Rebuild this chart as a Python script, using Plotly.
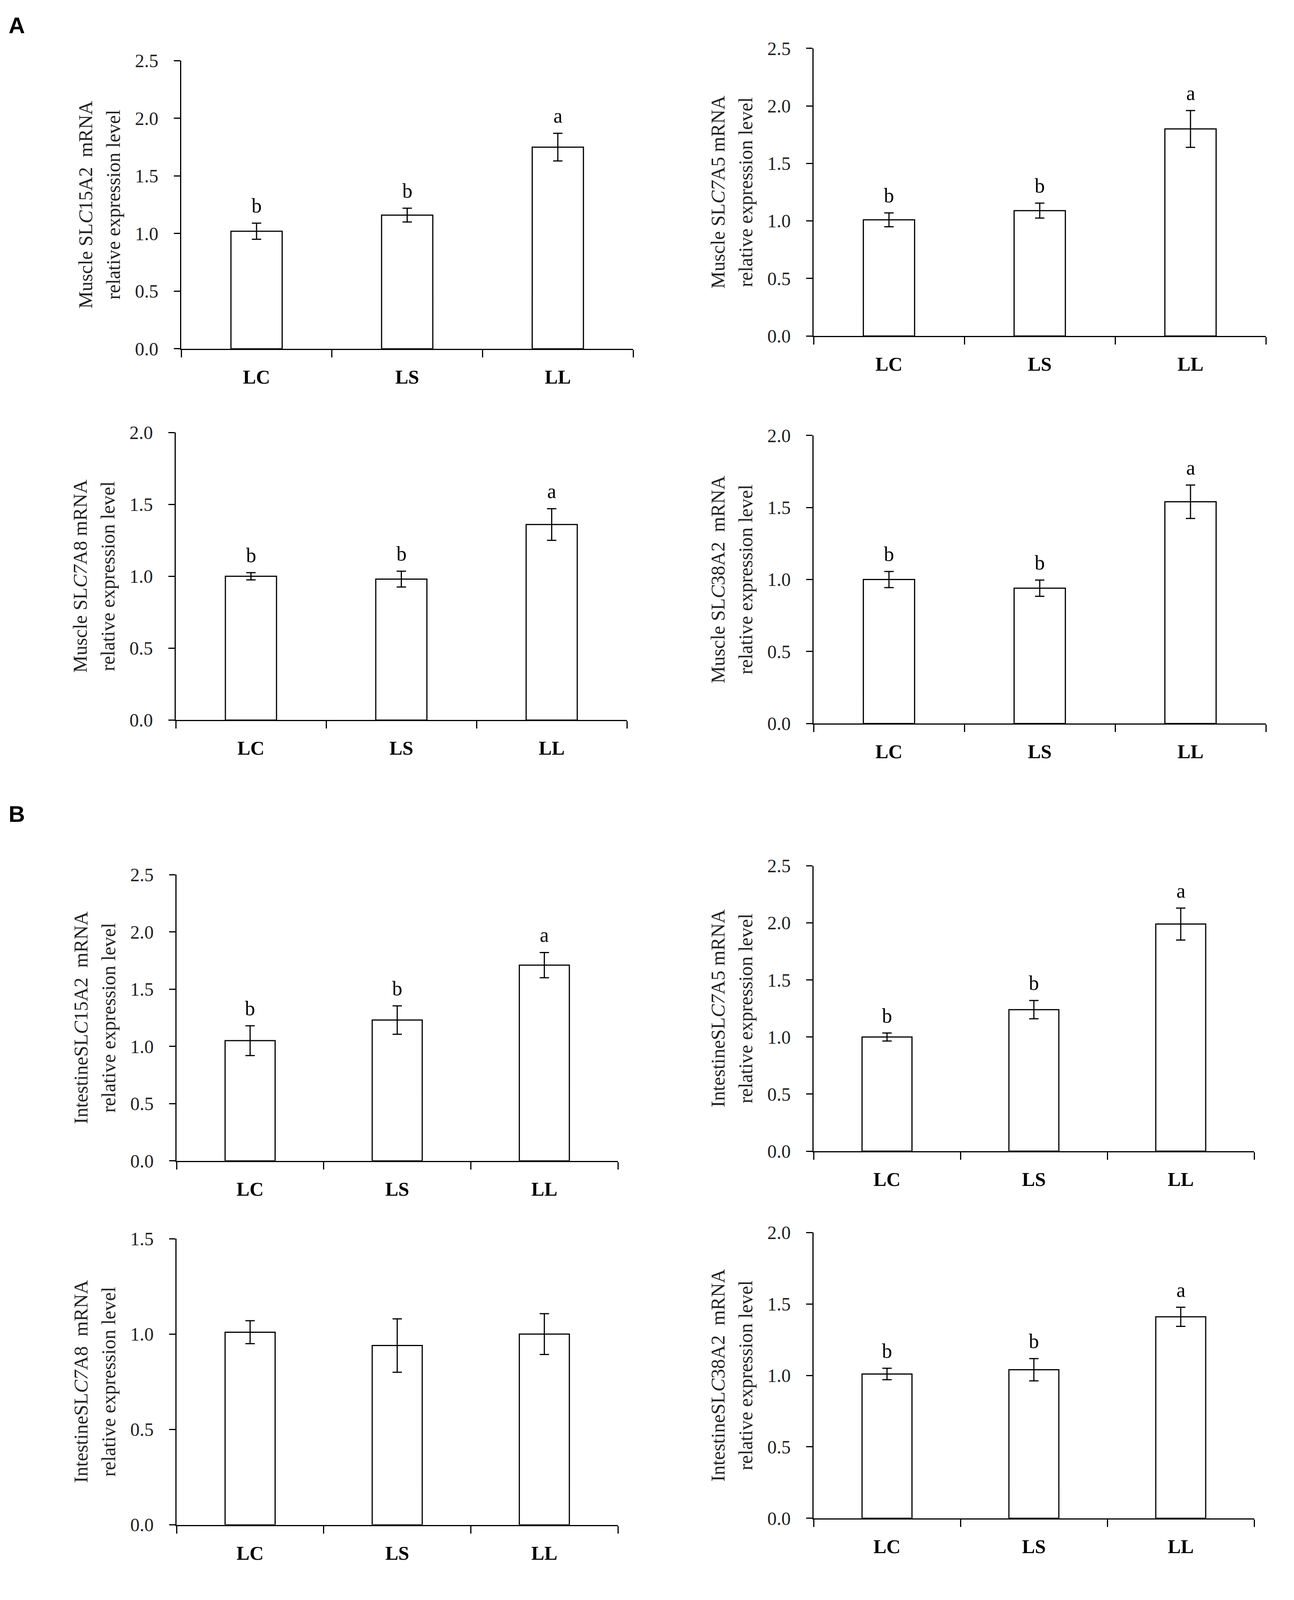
import plotly.graph_objects as go

# page size (minus the 8px default body margin on each side)
W, H, PAD = 3297, 4121, 8

groups = ["LC", "LS", "LL"]

# Muscle (A)
muscle_slc15a2 = [1.02, 1.16, 1.75]
muscle_slc15a2_se = [0.07, 0.06, 0.12]
muscle_slc7a5 = [1.01, 1.09, 1.80]
muscle_slc7a5_se = [0.06, 0.065, 0.16]
muscle_slc7a8 = [1.00, 0.98, 1.36]
muscle_slc7a8_se = [0.025, 0.055, 0.11]
muscle_slc38a2 = [1.00, 0.94, 1.54]
muscle_slc38a2_se = [0.056, 0.056, 0.116]

# Intestine (B)
int_slc15a2 = [1.05, 1.23, 1.71]
int_slc15a2_se = [0.13, 0.124, 0.11]
int_slc7a5 = [1.00, 1.24, 1.99]
int_slc7a5_se = [0.035, 0.08, 0.14]
int_slc7a8 = [1.01, 0.94, 1.00]
int_slc7a8_se = [0.06, 0.14, 0.107]
int_slc38a2 = [1.01, 1.04, 1.41]
int_slc38a2_se = [0.04, 0.078, 0.067]

sig_bba = ["b", "b", "a"]
sig_none = ["", "", ""]

line2 = "relative expression level"

# (title line 1, means, errors, letters, y max)
panels = [
    ("Muscle SL<i>C</i>15A2  mRNA", muscle_slc15a2, muscle_slc15a2_se, sig_bba, 2.5),
    ("Muscle SL<i>C7</i>A5 mRNA", muscle_slc7a5, muscle_slc7a5_se, sig_bba, 2.5),
    ("Muscle SL<i>C7</i>A8 mRNA", muscle_slc7a8, muscle_slc7a8_se, sig_bba, 2.0),
    ("Muscle SL<i>C</i>38A2  mRNA", muscle_slc38a2, muscle_slc38a2_se, sig_bba, 2.0),
    ("IntestineSL<i>C</i>15A2  mRNA", int_slc15a2, int_slc15a2_se, sig_bba, 2.5),
    ("IntestineSL<i>C7</i>A5 mRNA", int_slc7a5, int_slc7a5_se, sig_bba, 2.5),
    ("IntestineSL<i>C7</i>A8  mRNA", int_slc7a8, int_slc7a8_se, sig_none, 1.5),
    ("IntestineSL<i>C</i>38A2  mRNA", int_slc38a2, int_slc38a2_se, sig_bba, 2.0),
]

# plot-area boxes in page pixels: left, right, top, bottom
boxes = [
    (464, 1621, 131, 878),
    (2083, 3241, 99, 845),
    (450, 1605, 1095, 1841),
    (2083, 3241, 1103, 1850),
    (452, 1582, 2242, 2984),
    (2083, 3211, 2219, 2959),
    (452, 1582, 3186, 3928),
    (2083, 3211, 3170, 3911),
]

SERIF = "Liberation Serif"

fig = go.Figure()
annotations = []

for i, ((title, means, errs, letters, ymax), (x0, x1, y0, y1)) in enumerate(zip(panels, boxes), start=1):
    xr = "x" if i == 1 else f"x{i}"
    yr = "y" if i == 1 else f"y{i}"

    fig.add_trace(go.Bar(
        x=groups, y=means,
        width=0.34,
        marker=dict(color="white", line=dict(color="black", width=3)),
        error_y=dict(type="data", array=errs, color="black", thickness=3, width=12),
        xaxis=xr, yaxis=yr, showlegend=False, hoverinfo="skip",
    ))

    fig.update_layout(**{
        ("xaxis" if i == 1 else f"xaxis{i}"): dict(
            domain=[(x0 - PAD) / W, (x1 - PAD) / W], anchor=yr,
            type="category", tickson="boundaries",
            ticks="outside", ticklen=19, tickwidth=3, tickcolor="black",
            showline=True, linecolor="black", linewidth=3, showgrid=False,
            tickfont=dict(family=SERIF, size=50, color="black", weight="bold"),
            ticklabelstandoff=26, fixedrange=True,
        ),
        ("yaxis" if i == 1 else f"yaxis{i}"): dict(
            domain=[1 - (y1 - PAD) / H, 1 - (y0 - PAD) / H], anchor=xr,
            range=[0, ymax], dtick=0.5, tickformat=".1f",
            ticks="outside", ticklen=16, tickwidth=3, tickcolor="black",
            showline=True, linecolor="black", linewidth=3,
            showgrid=False, zeroline=False,
            tickfont=dict(family=SERIF, size=48, color="#222222"),
            ticklabelstandoff=30, fixedrange=True,
        ),
    })

    # significance letters above error bars
    for g, m, e, s in zip(groups, means, errs, letters):
        if s:
            annotations.append(dict(
                x=g, y=m + e, xref=xr, yref=yr, text=s, showarrow=False,
                yanchor="bottom", yshift=14,
                font=dict(family=SERIF, size=52, color="black"),
            ))

    # two-line y-axis title
    for txt, shift in ((title, -245), (line2, -174)):
        annotations.append(dict(
            x=0, y=0.5, xref=f"{xr} domain", yref=f"{yr} domain",
            text=txt, textangle=-90, showarrow=False,
            xanchor="center", yanchor="middle", xshift=shift,
            font=dict(family=SERIF, size=50, color="#222222"),
        ))

# panel letters
for label, top in (("A", 16), ("B", 2061)):
    annotations.append(dict(
        x=(20 - PAD) / W, y=1 - (top - 12 - PAD) / H, xref="paper", yref="paper",
        text=f"<b>{label}</b>", showarrow=False, xanchor="left", yanchor="top",
        font=dict(family="Liberation Sans", size=58, color="black"),
    ))

fig.update_layout(
    width=W, height=H,
    margin=dict(l=0, r=0, t=0, b=0),
    paper_bgcolor="white", plot_bgcolor="white",
    annotations=annotations,
    bargap=0.66,
)

fig.write_html("out.html")
